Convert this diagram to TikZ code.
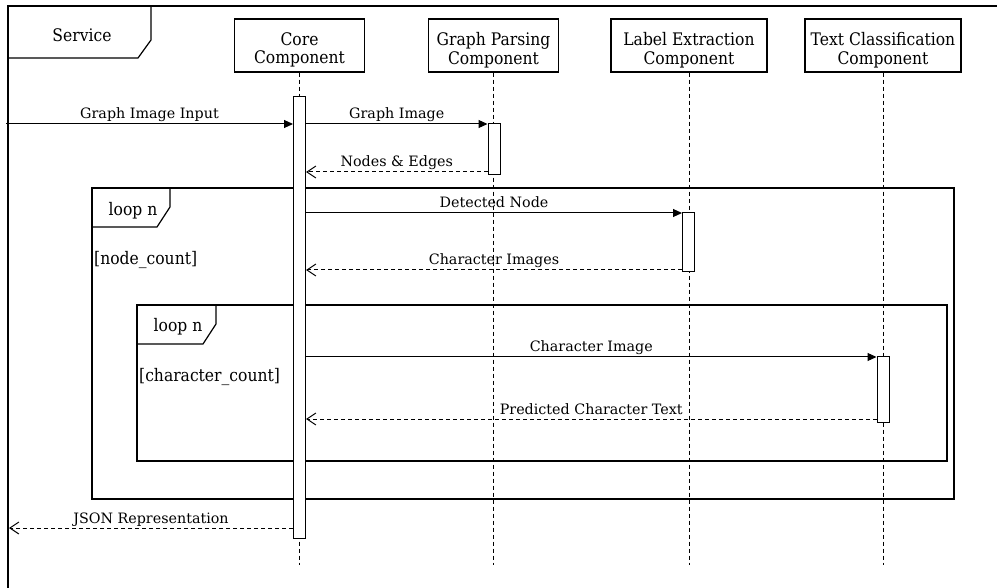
\documentclass[tikz,border=0pt]{standalone}
\usepackage{fontspec}
\setmainfont{DejaVu Serif}
\newfontfamily\condfont[FakeStretch=0.9]{DejaVu Serif}
\usetikzlibrary{arrows.meta}

\begin{document}
\begin{tikzpicture}[x=1pt,y=-1pt,
  frameline/.style={line width=1.2pt},
  condtext/.style={font=\condfont\fontsize{17.3}{18.5}\selectfont},
  titlebox/.style={draw, line width=1.2pt, fill=white, inner sep=0pt,
    minimum height=53pt,
    label={[condtext, align=center, inner sep=0pt, yshift=-4.5pt]center:#1}},
  actbox/.style={draw, line width=1pt, fill=white, inner sep=0pt,
    minimum width=12pt},
  lifeline/.style={line width=0.9pt, dash pattern=on 4pt off 3pt},
  syncmsg/.style={line width=1pt, -{Triangle[length=9pt,width=8pt]}},
  replymsg/.style={line width=1pt, dash pattern=on 4pt off 3pt,
    -{Straight Barb[length=9pt,width=12pt,line width=1pt]}},
  msglabel/.style={anchor=base, inner sep=0pt, yshift=5pt,
    font=\fontsize{14.3}{16}\selectfont},
  framelabel/.style={inner sep=0pt, condtext},
]
\useasboundingbox (0,0) rectangle (997,588);

% outer service frame with its name tab
\draw[frameline] (8,588) -- (8,6) -- (997,6);
\draw[frameline] (8,58) -- (138,58) -- (151,40) -- (151,6);
\node[framelabel] (svc) at (82,35) {Service};

% loop over detected nodes
\draw[frameline] (92,188) rectangle (954,499);
\draw[frameline] (92,227) -- (157,227) -- (170,207) -- (170,188);
\node[framelabel] (loopA) at (133,211) {loop n};
\node[framelabel, anchor=west] (guardA) at (94,260) {[node\_count]};

% loop over characters of a node
\draw[frameline] (137,305) rectangle (947,461);
\draw[frameline] (137,344) -- (203,344) -- (216,324) -- (216,305);
\node[framelabel] (loopB) at (178,327) {loop n};
\node[framelabel, anchor=west] (guardB) at (139,377) {[character\_count]};

% participants
\node[titlebox={Core\\Component}, minimum width=130pt] (core) at (299.5,45.5) {};
\node[titlebox={Graph Parsing\\Component}, minimum width=130pt] (parse) at (493.5,45.5) {};
\node[titlebox={Label Extraction\\Component}, minimum width=156pt] (label) at (689,45.5) {};
\node[titlebox={Text Classification\\Component}, minimum width=156pt] (text) at (883,45.5) {};

% lifelines
\coordinate (lifeend) at (0,565);
\draw[lifeline] (core.south) -- (core.south |- lifeend);
\draw[lifeline] (parse.south) -- (parse.south |- lifeend);
\draw[lifeline] (label.south) -- (label.south |- lifeend);
\draw[lifeline] (text.south) -- (text.south |- lifeend);

% activations
\node[actbox, minimum height=441pt] (coreA) at (299.5,317.5) {};
\node[actbox, minimum height=51pt] (parseA) at (494,149.5) {};
\node[actbox, minimum height=59pt] (labelA) at (688.5,242.5) {};
\node[actbox, minimum height=65pt] (textA) at (883,389.5) {};

% message levels
\coordinate (input) at (6,124);
\coordinate (yB) at (0,172);
\coordinate (yC) at (0,213);
\coordinate (yD) at (0,270);
\coordinate (yE) at (0,357);
\coordinate (yF) at (0,419);
\coordinate (output) at (9,528);

% messages
\draw[syncmsg] (input) -- (input -| coreA.west)
  node[msglabel, midway] {Graph Image Input};
\draw[syncmsg] (coreA.east |- input) -- (parseA.west |- input)
  node[msglabel, midway] {Graph Image};
\draw[replymsg] (parseA.west |- yB) -- (coreA.east |- yB)
  node[msglabel, midway] {Nodes \& Edges};
\draw[syncmsg] (coreA.east |- yC) -- (labelA.west |- yC)
  node[msglabel, midway] {Detected Node};
\draw[replymsg] (labelA.west |- yD) -- (coreA.east |- yD)
  node[msglabel, midway] {Character Images};
\draw[syncmsg] (coreA.east |- yE) -- (textA.west |- yE)
  node[msglabel, midway] {Character Image};
\draw[replymsg] (textA.west |- yF) -- (coreA.east |- yF)
  node[msglabel, midway] {Predicted Character Text};
\draw[replymsg] (coreA.west |- output) -- (output)
  node[msglabel, midway] {JSON Representation};
\end{tikzpicture}
\end{document}
